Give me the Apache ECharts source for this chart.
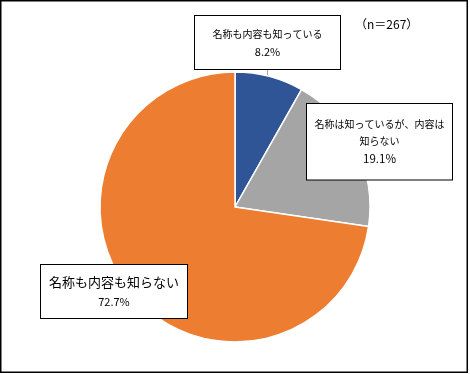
<!DOCTYPE html>
<html>
<head>
<meta charset="utf-8">
<script src="https://cdn.jsdelivr.net/npm/echarts@6/dist/echarts.min.js"></script>
<style>
html,body{margin:0;padding:0;background:#fff;}
#c{width:470px;height:374px;}
</style>
</head>
<body>
<div id="c"></div>
<script>
var categories = ['名称も内容も知っている', '名称は知っているが、内容は\n知らない', '名称も内容も知らない'];
var values = [8.2, 19.1, 72.7];
var colors = ['#2F5597', '#A5A5A5', '#ED7D31'];
var note = '（n＝267）';

var FONT = '"Noto Sans CJK JP", "Noto Sans", sans-serif';

var labelBoxes = [
  {x: 195, y: 16, width: 145, padding: [9, 0, 8, 0], nameSize: 10, nameLH: 18, pctSize: 11, pctLH: 18},
  {x: 307, y: 104, width: 145, padding: [11, 0, 12, 0], nameSize: 10, nameLH: 17.5, pctSize: 11.5, pctLH: 17.5},
  {x: 41, y: 265, width: 146, padding: [8, 0, 7, 0], nameSize: 13, nameLH: 19, pctSize: 11, pctLH: 19}
];

var data = categories.map(function (c, i) {
  var b = labelBoxes[i];
  return {
    name: c,
    value: values[i],
    itemStyle: {color: colors[i]},
    labelLine: {show: i === 0, lineStyle: {color: '#A6A6A6', width: 1}},
    label: {
      width: b.width,
      padding: b.padding,
      rich: {
        n: {fontSize: b.nameSize, lineHeight: b.nameLH, fontFamily: FONT, color: '#000', align: 'center'},
        p: {fontSize: b.pctSize, lineHeight: b.pctLH, fontFamily: FONT, color: '#000', align: 'center'}
      }
    }
  };
});

var chart = echarts.init(document.getElementById('c'), null, {renderer: 'canvas'});
chart.setOption({
  animation: false,
  backgroundColor: '#fff',
  graphic: [{
    type: 'rect',
    shape: {x: 0.75, y: 0.75, width: 466.5, height: 371.5},
    style: {fill: 'none', stroke: '#000', lineWidth: 1.5},
    silent: true
  }, {
    type: 'text',
    left: 355,
    top: 18,
    style: {text: note, fontSize: 12, fontFamily: FONT, fill: '#000'},
    silent: true
  }],
  series: [{
    type: 'pie',
    center: [235, 207],
    radius: 135,
    startAngle: 90,
    clockwise: true,
    silent: true,
    itemStyle: {borderColor: '#fff', borderWidth: 1.5},
    label: {
      show: true,
      position: 'outside',
      backgroundColor: '#fff',
      borderColor: '#000',
      borderWidth: 1,
      align: 'center',
      formatter: function (p) {
        var lines = p.name.split('\n').map(function (s) { return '{n|' + s + '}'; });
        return lines.join('\n') + '\n{p|' + p.value.toFixed(1) + '%}';
      }
    },
    labelLine: {length: 5, length2: 5},
    labelLayout: function (params) {
      var b = labelBoxes[params.dataIndex];
      return {x: b.x, y: b.y, align: 'left', verticalAlign: 'top'};
    },
    data: data
  }]
});
</script>
</body>
</html>
